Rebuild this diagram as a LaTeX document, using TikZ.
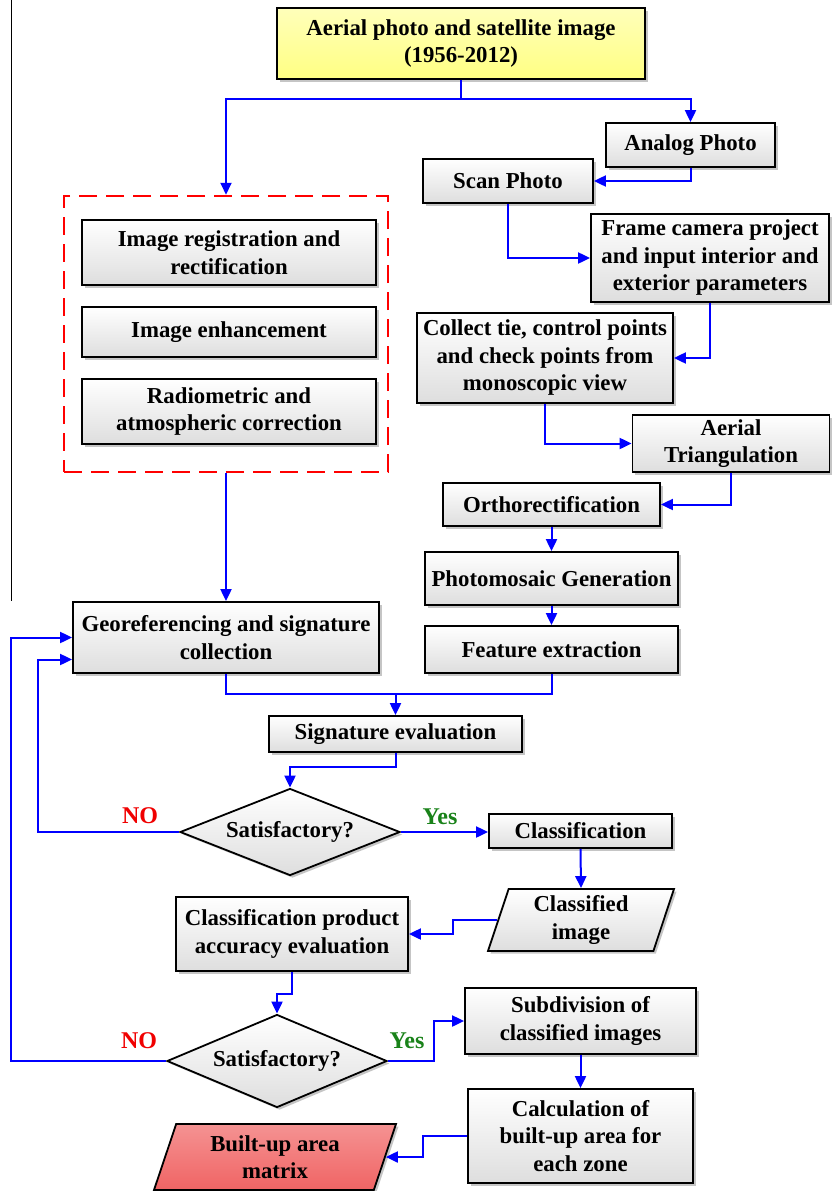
\documentclass[tikz,border=0pt]{standalone}
\usepackage{fontspec}
\setmainfont{Liberation Serif}
\usetikzlibrary{arrows.meta,positioning,calc,shapes.geometric,shadows}
\definecolor{srcYellow}{RGB}{255,255,130}
\definecolor{outRed}{RGB}{240,100,100}
\definecolor{flowBlue}{RGB}{0,0,255}
\definecolor{yesGreen}{RGB}{25,130,25}
\definecolor{noRed}{RGB}{240,0,0}

\begin{document}
\begin{tikzpicture}[x=1pt,y=-1pt,
    font=\fontsize{22.8}{27.5}\selectfont\bfseries,
    stepbox/.style={draw=black, line width=1.8pt, top color=white, bottom color=black!13,
      drop shadow={shadow xshift=2.5pt,shadow yshift=-2.5pt,fill=black!45,opacity=.5},
      align=center, inner sep=1pt},
    checkbox/.style={stepbox, shape=diamond, inner sep=0pt, aspect=2.5},
    databox/.style={stepbox, shape=trapezium, trapezium stretches body, inner sep=0pt},
    flow/.style={draw=flowBlue, line width=2pt, -{Triangle[length=12pt,width=11pt]}},
    link/.style={draw=flowBlue, line width=2pt}]
  \useasboundingbox (0,0) rectangle (831,1191);
  \draw[line width=0.8pt] (11.5,0) -- (11.5,601);

  % source and pre-processing group
  \node[stepbox, top color=srcYellow!55, bottom color=srcYellow, minimum width=368pt, minimum height=71pt] (source) at (461,43.5) {Aerial photo and satellite image\\(1956-2012)};
  \node[draw=red, line width=2.5pt, dash pattern=on 18pt off 9pt, minimum width=324pt, minimum height=276pt] (prep) at (226,334) {};
  \node[stepbox, minimum width=294pt, minimum height=65pt] (regist) at (229,252.5) {Image registration and\\rectification};
  \node[stepbox, minimum width=294pt, minimum height=50pt] (enhance) at (229,332) {Image enhancement};
  \node[stepbox, minimum width=294pt, minimum height=65pt] (radio) at (229,411.5) {Radiometric and\\atmospheric correction};

  % analog photo branch
  \node[stepbox, minimum width=169pt, minimum height=44pt] (analog) at (690.5,145) {Analog Photo};
  \node[stepbox, minimum width=170pt, minimum height=44pt] (scan) at (508,181) {Scan Photo};
  \node[stepbox, minimum width=238pt, minimum height=88pt] (frame) at (710,258) {Frame camera project\\and input interior and\\exterior parameters};
  \node[stepbox, minimum width=256pt, minimum height=90pt] (collect) at (545,358) {Collect tie, control points\\and check points from\\monoscopic view};
  \node[stepbox, minimum width=197pt, minimum height=57pt] (aerotri) at (731,443.5) {Aerial\\Triangulation};
  \node[stepbox, minimum width=217pt, minimum height=43pt] (ortho) at (551.5,504.5) {Orthorectification};
  \node[stepbox, minimum width=253pt, minimum height=53pt] (mosaic) at (551.5,578.5) {Photomosaic Generation};
  \node[stepbox, minimum width=253pt, minimum height=47pt] (feature) at (551.5,649.5) {Feature extraction};

  % classification
  \node[stepbox, minimum width=306pt, minimum height=71pt] (georef) at (226,637.5) {Georeferencing and signature\\collection};
  \node[stepbox, minimum width=253pt, minimum height=36pt] (sigeval) at (395.5,734) {Signature evaluation};
  \node[checkbox, minimum width=220pt, minimum height=87pt] (check1) at (290,832) {Satisfactory?};
  \node[stepbox, minimum width=183pt, minimum height=34pt] (classif) at (580.5,831) {Classification};
  \node[databox, trapezium left angle=67, trapezium right angle=113, minimum width=186pt, minimum height=62pt] (clsimg) at (581,920) {Classified\\image};
  \node[stepbox, minimum width=232pt, minimum height=74pt] (accuracy) at (292,934) {Classification product\\accuracy evaluation};
  \node[checkbox, minimum width=220pt, minimum height=93pt] (check2) at (277,1061) {Satisfactory?};
  \node[stepbox, minimum width=231pt, minimum height=66pt] (subdiv) at (580.5,1021) {Subdivision of\\classified images};
  \node[stepbox, minimum width=225pt, minimum height=94pt] (calc) at (580.5,1136) {Calculation of\\built-up area for\\each zone};
  \node[databox, top color=outRed!70, bottom color=outRed, trapezium left angle=63, trapezium right angle=117, minimum width=242pt, minimum height=66pt] (builtup) at (275,1157) {Built-up area\\matrix};

  % decision labels
  \node[text=noRed, font=\fontsize{24}{28}\selectfont\bfseries] (no1) at (140,816) {NO};
  \node[text=yesGreen, font=\fontsize{24}{28}\selectfont\bfseries] (yes1) at (440,817) {Yes};
  \node[text=noRed, font=\fontsize{24}{28}\selectfont\bfseries] (no2) at (139,1041) {NO};
  \node[text=yesGreen, font=\fontsize{24}{28}\selectfont\bfseries] (yes2) at (407,1041) {Yes};

  % connectors
  \coordinate (split) at ($(source.south)+(0,19)$);
  \draw[link] (source.south) -- (split);
  \draw[flow] (split) -| (prep.north);
  \draw[flow] (split) -| (analog.north);
  \draw[flow] (analog.south) |- (scan.east);
  \draw[flow] (scan.south) |- (frame.west);
  \draw[flow] (frame.south) |- (collect.east);
  \draw[flow] (collect.south) |- (aerotri.west);
  \draw[flow] (aerotri.south) |- (ortho.east);
  \draw[flow] (ortho.south) -- (mosaic.north);
  \draw[flow] (mosaic.south) -- (feature.north);
  \draw[flow] (prep.south) -- (georef.north);
  \coordinate (merge) at ($(sigeval.north)+(0,-21)$);
  \draw[link] (georef.south) |- (merge) -| (feature.south);
  \draw[flow] (merge) -- (sigeval.north);
  \draw[flow] (sigeval.south) -- ++(0,14) -| (check1.north);
  \draw[flow] (check1.west) -- ++(-141,0) |- ([yshift=-22pt]georef.west);
  \draw[flow] (check1.east) -- (check1.east -| classif.west);
  \draw[flow] (classif.south) -- (clsimg.north);
  \draw[flow] (clsimg.west) -- ++(-44,0) |- (accuracy.east);
  \draw[flow] (accuracy.south) -- ++(0,22) -| (check2.north);
  \draw[flow] (check2.west) -- ++(-155,0) |- (georef.west);
  \draw[flow] (check2.east) -- ++(46,0) |- (subdiv.west);
  \draw[flow] (subdiv.south) -- (calc.north);
  \draw[flow] (calc.west) -- ++(-44,0) |- (builtup.east);
\end{tikzpicture}
\end{document}
